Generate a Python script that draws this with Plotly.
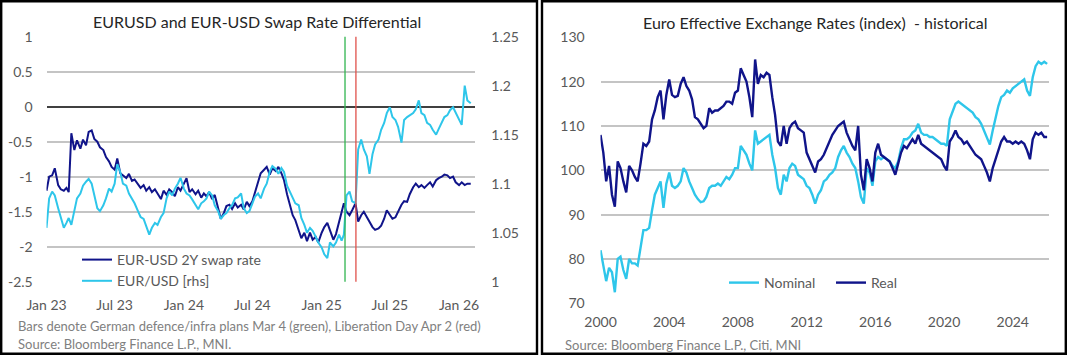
import plotly.graph_objects as go

# ---------------- data: left chart (approx. weekly readings) ----------------
LEFT_MONTHS = [(y, m) for y in (2023, 2024, 2025) for m in range(1, 13)] + [(2026, 1)]
LEFT_DAYS = [1, 8, 16, 23]
LEFT_DATES = [f"{y}-{m:02d}-{d:02d}" for (y, m) in LEFT_MONTHS for d in LEFT_DAYS] + ["2026-02-01"]

SWAP_DIFF_2Y = [
    -1.20, -1.00, -0.98, -0.88,   # Jan 23
    -1.12, -1.18, -1.20, -1.16,
    -1.22, -0.38, -0.62, -0.48,
    -0.60, -0.47, -0.55, -0.36,
    -0.34, -0.46, -0.50, -0.58,
    -0.62, -0.72, -0.78, -0.86,
    -0.90, -0.74, -0.95, -0.98,   # Jul 23
    -1.02, -0.96, -1.06, -1.04,
    -1.10, -1.16, -1.12, -1.20,
    -1.15, -1.22, -1.18, -1.24,
    -1.32, -1.20, -1.26, -1.18,
    -1.22, -1.28, -1.15, -1.20,
    -1.10, -1.02, -1.22, -1.18,   # Jan 24
    -1.25, -1.20, -1.30, -1.24,
    -1.28, -1.22, -1.32, -1.26,
    -1.45, -1.60, -1.52, -1.42,
    -1.40, -1.46, -1.38, -1.44,
    -1.40, -1.47, -1.36, -1.42,
    -1.35, -1.22, -1.10, -0.95,   # Jul 24
    -0.90, -0.86, -0.97, -0.88,
    -0.92, -0.86, -0.95, -1.05,
    -1.25, -1.40, -1.55, -1.62,
    -1.75, -1.88, -1.80, -1.92,
    -1.80, -1.90, -1.86, -1.94,
    -1.80, -1.72, -1.66, -1.78,   # Jan 25
    -1.90, -1.82, -1.65, -1.50,
    -1.38, -1.50, -1.55, -1.48,
    -1.38, -1.64, -1.55, -1.50,
    -1.58, -1.66, -1.72, -1.76,
    -1.74, -1.70, -1.60, -1.48,
    -1.55, -1.60, -1.58, -1.50,   # Jul 25
    -1.40, -1.35, -1.36, -1.25,
    -1.15, -1.10, -1.15, -1.12,
    -1.16, -1.12, -1.08, -1.14,
    -1.05, -1.02, -1.00, -0.97,
    -0.98, -1.02, -1.00, -1.08,
    -1.12, -1.08, -1.12, -1.10,   # Jan 26
    -1.10,
]

EURUSD = [
    1.055, 1.085, 1.092, 1.088,   # Jan 23
    1.075, 1.066, 1.055, 1.060,
    1.065, 1.058, 1.072, 1.085,
    1.090, 1.098, 1.102, 1.105,
    1.100, 1.088, 1.075, 1.072,
    1.078, 1.085, 1.095, 1.092,
    1.100, 1.120, 1.112, 1.100,   # Jul 23
    1.098, 1.090, 1.085, 1.080,
    1.072, 1.066, 1.064, 1.056,
    1.048, 1.055, 1.060, 1.058,
    1.066, 1.070, 1.085, 1.092,
    1.088, 1.095, 1.100, 1.106,
    1.095, 1.090, 1.088, 1.084,   # Jan 24
    1.078, 1.074, 1.080, 1.082,
    1.085, 1.092, 1.088, 1.078,
    1.072, 1.064, 1.068, 1.070,
    1.075, 1.078, 1.085, 1.086,
    1.090, 1.075, 1.070, 1.072,
    1.080, 1.087, 1.090, 1.085,   # Jul 24
    1.095, 1.100, 1.112, 1.118,
    1.115, 1.110, 1.116, 1.112,
    1.098, 1.092, 1.085, 1.080,
    1.078, 1.065, 1.058, 1.050,
    1.055, 1.052, 1.046, 1.040,
    1.035, 1.028, 1.024, 1.040,   # Jan 25
    1.036, 1.040, 1.048, 1.042,
    1.048, 1.088, 1.092, 1.082,
    1.080, 1.135, 1.145, 1.135,
    1.128, 1.110, 1.130, 1.140,
    1.145, 1.155, 1.162, 1.172,
    1.178, 1.168, 1.165, 1.158,   # Jul 25
    1.142, 1.165, 1.168, 1.170,
    1.172, 1.176, 1.185, 1.172,
    1.170, 1.162, 1.160, 1.155,
    1.150, 1.156, 1.162, 1.168,
    1.170, 1.175, 1.178, 1.172,
    1.165, 1.160, 1.200, 1.185,   # Jan 26
    1.182,
]

EVENT_DATES = ["2025-03-04", "2025-04-02"]
EVENT_COLORS = ["#2fb54f", "#e0504a"]

LEFT_Y_TICKS = [-2.5, -2, -1.5, -1, -0.5, 0, 0.5, 1]
LEFT_Y2_TICKS = [1.0, 1.05, 1.1, 1.15, 1.2, 1.25]

# ---------------- data: right chart (approx. bi-monthly readings) ----------------
RIGHT_DATES = [f"{y}-{m:02d}-01" for y in range(2000, 2026) for m in (1, 3, 5, 7, 9, 11)] + ["2026-01-01"]

NOMINAL_EER = [
    82.0, 78.5, 75.0, 78.0, 77.0, 72.5,     # 2000
    80.0, 80.5, 77.5, 75.5, 80.0, 79.0,
    79.0, 78.5, 83.0, 86.5, 86.5, 87.0,
    91.0, 94.5, 96.0, 97.5, 91.5, 97.0,
    99.5, 96.5, 96.0, 96.5, 97.5, 100.5,    # 2004
    99.5, 97.5, 96.0, 94.5, 93.5, 92.8,
    93.0, 94.0, 96.0, 96.5, 96.5, 97.0,
    96.5, 97.5, 98.5, 98.0, 99.0, 100.5,
    100.5, 105.5, 104.5, 103.5, 101.5, 100.0,  # 2008
    109.0, 106.0, 106.5, 107.0, 107.5, 108.0,
    103.5, 100.5, 96.0, 94.5, 99.0, 97.5,
    100.5, 101.5, 101.0, 99.0, 98.5, 98.0,
    96.5, 96.0, 94.5, 92.5, 94.5, 95.5,     # 2012
    97.5, 98.0, 99.0, 99.5, 100.5, 103.0,
    104.5, 105.5, 104.0, 103.0, 101.5, 100.5,
    97.5, 94.0, 92.5, 100.5, 99.5, 96.5,
    102.0, 103.0, 102.5, 103.0, 102.5, 102.0,  # 2016
    101.0, 100.5, 102.0, 105.0, 107.0, 107.0,
    107.5, 108.5, 109.0, 110.5, 108.5, 108.0,
    108.0, 107.5, 107.5, 107.0, 106.5, 106.0,
    106.0, 105.5, 111.5, 113.5, 115.0, 115.5,  # 2020
    115.0, 114.5, 114.0, 113.5, 113.0, 112.0,
    111.5, 110.5, 109.0, 107.5, 105.8, 109.0,
    112.0, 114.5, 116.5, 117.0, 118.0, 117.5,
    118.5, 119.0, 119.5, 120.0, 120.5, 118.0,  # 2024
    116.8, 121.0, 123.5, 124.5, 124.0, 124.5,
    124.0,
]

REAL_EER = [
    108.0, 104.0, 97.5, 101.0, 94.5, 91.8,    # 2000
    102.0, 100.5, 97.5, 95.0, 101.0, 100.0,
    98.5, 97.5, 101.5, 106.0, 105.5, 106.5,
    111.5, 113.5, 116.5, 118.0, 111.5, 117.0,
    120.5, 117.0, 116.5, 116.8, 119.5, 121.0,  # 2004
    119.0, 118.0, 116.0, 112.0, 111.5, 110.5,
    109.5, 110.0, 114.0, 113.0, 113.5, 113.5,
    114.0, 114.5, 115.5, 115.5, 115.0, 117.5,
    118.0, 123.0, 121.5, 120.0, 116.5, 112.0,  # 2008
    125.0, 119.5, 121.5, 121.0, 122.0, 121.5,
    116.5, 112.5, 106.5, 105.5, 110.0, 106.0,
    109.5, 110.5, 111.0, 109.5, 109.0, 108.5,
    104.0, 102.5, 101.0, 99.5, 102.0, 102.5,   # 2012
    103.5, 105.0, 106.5, 108.0, 109.0, 110.0,
    110.5, 111.0, 108.5, 107.0, 105.5, 104.5,
    110.0, 99.0, 95.5, 102.5, 100.5, 97.5,
    104.0, 106.0, 103.5, 103.0, 102.5, 102.0,  # 2016
    100.5, 99.0, 101.5, 104.0, 105.5, 105.0,
    106.0, 107.0, 106.0, 108.0, 106.0, 105.5,
    105.0, 104.5, 104.0, 103.5, 103.0, 102.5,
    101.0, 100.0, 106.5, 107.5, 109.0, 107.5,  # 2020
    107.0, 106.0, 106.5, 105.5, 104.5, 103.5,
    103.0, 102.5, 101.0, 99.5, 97.5, 100.5,
    102.5, 104.5, 106.5, 107.5, 106.5, 106.5,
    106.0, 106.5, 106.0, 106.5, 106.0, 104.5,  # 2024
    102.5, 107.0, 108.5, 108.0, 108.5, 107.5,
    107.5,
]

RIGHT_Y_TICKS = [70, 80, 90, 100, 110, 120, 130]

# ---------------- styling ----------------
W, H = 1067, 355
NAVY = "#10148a"
CYAN = "#2ec6ea"
GRID = "#c4c4c4"
FONT = "Lato, Open Sans, sans-serif"
TICK_FONT = dict(family=FONT, size=14, color="#595959")
CLEAR = "rgba(0,0,0,0)"


def fx(px):
    return px / W


def fy(py):
    return 1 - py / H


fig = go.Figure()

fig.add_trace(go.Scatter(x=LEFT_DATES, y=SWAP_DIFF_2Y, name="EUR-USD 2Y swap rate",
                         mode="lines", line=dict(color=NAVY, width=2),
                         xaxis="x", yaxis="y", legend="legend"))
fig.add_trace(go.Scatter(x=LEFT_DATES, y=EURUSD, name="EUR/USD [rhs]",
                         mode="lines", line=dict(color=CYAN, width=2),
                         xaxis="x", yaxis="y2", legend="legend"))
fig.add_trace(go.Scatter(x=RIGHT_DATES, y=NOMINAL_EER, name="Nominal",
                         mode="lines", line=dict(color=CYAN, width=2.4),
                         xaxis="x2", yaxis="y3", legend="legend2"))
fig.add_trace(go.Scatter(x=RIGHT_DATES, y=REAL_EER, name="Real",
                         mode="lines", line=dict(color=NAVY, width=2.4),
                         xaxis="x2", yaxis="y3", legend="legend2"))

for d, c in zip(EVENT_DATES, EVENT_COLORS):
    fig.add_shape(type="line", xref="x", yref="y domain", x0=d, x1=d, y0=0, y1=1,
                  line=dict(color=c, width=1.3), layer="above")

# panel borders
fig.add_shape(type="rect", xref="paper", yref="paper", x0=fx(1.2), x1=fx(537), y0=fy(353.8), y1=fy(1.2),
              line=dict(color="#000000", width=2.4), fillcolor=CLEAR)
fig.add_shape(type="rect", xref="paper", yref="paper", x0=fx(542), x1=fx(1065.8), y0=fy(353.8), y1=fy(1.2),
              line=dict(color="#000000", width=2.4), fillcolor=CLEAR)

common = dict(automargin=False, showline=False,
              ticks="outside", tickcolor=CLEAR, tickwidth=1, tickfont=TICK_FONT)

fig.update_layout(
    template="none",
    width=W, height=H, autosize=False,
    margin=dict(l=0, r=0, t=0, b=0, pad=0),
    paper_bgcolor="white", plot_bgcolor="white",
    font=dict(family=FONT, color="#595959"),
    xaxis=dict(domain=[fx(46.5), fx(474.5)], anchor="y", type="date",
               range=["2023-01-01", "2026-02-11"], tick0="2023-01-01", dtick="M6",
               tickformat="%b %y", ticklen=10, showgrid=False, zeroline=False, **common),
    yaxis=dict(domain=[fy(281.7), fy(36.7)], anchor="x", range=[-2.5, 1],
               tickvals=LEFT_Y_TICKS, ticktext=[f"{v:g}" for v in LEFT_Y_TICKS],
               showgrid=True, gridcolor=GRID, gridwidth=2,
               zeroline=True, zerolinecolor="#404040", zerolinewidth=1.6,
               ticklen=10, **common),
    yaxis2=dict(overlaying="y", side="right", anchor="x", range=[1.0, 1.25],
                tickvals=LEFT_Y2_TICKS, ticktext=[f"{v:g}" for v in LEFT_Y2_TICKS],
                showgrid=False, zeroline=False, ticklen=13, **common),
    xaxis2=dict(domain=[fx(600.5), fx(1049)], anchor="y3", type="date",
                range=["2000-01-01", "2026-02-10"], tick0="2000-01-01", dtick="M48",
                tickformat="%Y", ticklen=6, showgrid=False, zeroline=False, **common),
    yaxis3=dict(domain=[fy(303.3), fy(37.3)], anchor="x2", range=[70, 130],
                tickvals=RIGHT_Y_TICKS, showgrid=True, gridcolor=GRID, gridwidth=2,
                zeroline=False, ticklen=12, **common),
    legend=dict(x=fx(77), y=fy(244), xanchor="left", yanchor="top",
                orientation="v", bgcolor=CLEAR, borderwidth=0,
                font=dict(family=FONT, size=14, color="#595959"), tracegroupgap=0,
                itemwidth=30),
    legend2=dict(x=fx(724), y=fy(267), xanchor="left", yanchor="top",
                 orientation="h", bgcolor=CLEAR, borderwidth=0,
                 font=dict(family=FONT, size=14, color="#595959"),
                 itemwidth=30, entrywidth=62, entrywidthmode="pixels"),
    showlegend=True,
)

annotations = [
    dict(text="EURUSD and EUR-USD Swap Rate Differential", x=fx(257), y=fy(21.7),
         font=dict(family=FONT, size=16, color="#262626")),
    dict(text="Euro Effective Exchange Rates (index)  - historical", x=fx(815), y=fy(22.9),
         font=dict(family=FONT, size=16, color="#262626")),
]
for a in annotations:
    a.update(xref="paper", yref="paper", xanchor="center", yanchor="middle", showarrow=False)

notes = [
    ("Bars denote German defence/infra plans Mar 4 (green), Liberation Day Apr 2 (red)", 16, 325.6),
    ("Source: Bloomberg Finance L.P., MNI.", 16, 344.0),
    ("Source: Bloomberg Finance L.P., Citi, MNI", 563, 344.8),
]
for t, xx, yy in notes:
    annotations.append(dict(text=t, x=fx(xx), y=fy(yy), xref="paper", yref="paper",
                            xanchor="left", yanchor="middle", showarrow=False,
                            font=dict(family=FONT, size=13, color="#808080")))
fig.update_layout(annotations=annotations)

fig.write_html("out.html", config={"displayModeBar": False},
               post_script="document.body.style.margin='0';document.body.style.overflow='hidden';")
